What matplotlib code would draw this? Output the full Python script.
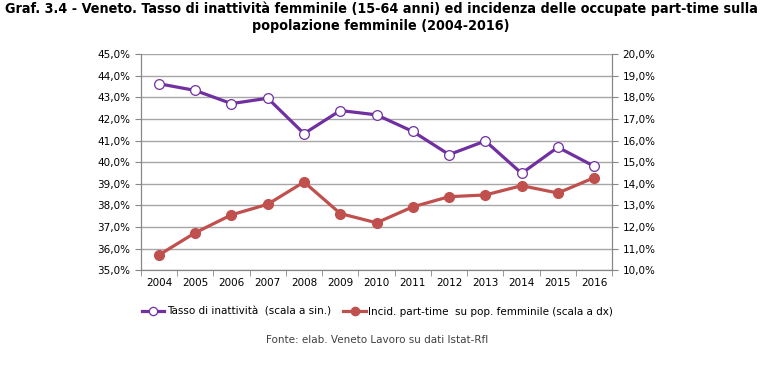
import matplotlib
matplotlib.use("Agg")
from matplotlib import pyplot as plt
from matplotlib.ticker import FuncFormatter, MultipleLocator

anni = ['2004', '2005', '2006', '2007', '2008', '2009', '2010',
        '2011', '2012', '2013', '2014', '2015', '2016']
inattivita = [43.63, 43.32, 42.71, 42.96, 41.32, 42.39, 42.19,
              41.42, 40.35, 40.98, 39.48, 40.69, 39.81]
part_time = [10.70, 11.73, 12.56, 13.05, 14.08, 12.62, 12.19,
             12.93, 13.40, 13.48, 13.91, 13.57, 14.28]

titolo = ("Graf. 3.4 - Veneto. Tasso di inattività femminile (15-64 anni) ed incidenza delle occupate part-time sulla\n"
          "popolazione femminile (2004-2016)")
fonte = "Fonte: elab. Veneto Lavoro su dati Istat-Rfl"

viola = "#7030A0"
rosso = "#C0504D"
grigio = "#878787"

def pct(v, pos):
    return ("%.1f%%" % v).replace(".", ",")

fig = plt.figure(figsize=(7.78, 3.66), dpi=100)
ax = fig.add_axes([0.181, 0.262, 0.606, 0.59])
ax2 = ax.twinx()

x = list(range(len(anni)))
l1, = ax.plot(x, inattivita, color=viola, lw=2.3, marker='o', ms=7,
              mfc='white', mec=viola, mew=0.9, zorder=3)
l2, = ax2.plot(x, part_time, color=rosso, lw=2.3, marker='o', ms=7,
               mfc=rosso, mec=rosso, zorder=3)

ax.set_ylim(35, 45)
ax2.set_ylim(10, 20)
ax.yaxis.set_major_locator(MultipleLocator(1))
ax2.yaxis.set_major_locator(MultipleLocator(1))
ax.yaxis.set_major_formatter(FuncFormatter(pct))
ax2.yaxis.set_major_formatter(FuncFormatter(pct))
ax.set_xlim(-0.5, len(anni) - 0.5)
ax.set_xticks(x)
ax.set_xticklabels(anni)
ax.set_xticks([i - 0.5 for i in range(len(anni) + 1)], minor=True)
ax.tick_params(axis='x', which='major', length=0, pad=6, labelsize=7.5)
ax.tick_params(axis='x', which='minor', length=4, color=grigio)
ax.tick_params(axis='y', length=4, color=grigio, labelsize=7.5)
ax2.tick_params(axis='y', length=4, color=grigio, labelsize=7.5)

ax.grid(axis='y', color='#A6A6A6', lw=1)
ax.set_axisbelow(True)
for a in (ax, ax2):
    a.spines['top'].set_visible(False)
    for s in ('left', 'right', 'bottom'):
        a.spines[s].set_color(grigio)

fig.text(0.49, 0.995, titolo, ha='center', va='top', fontsize=10.3,
         fontweight='bold', family='DejaVu Sans', fontstretch='condensed',
         linespacing=1.2)

fig.legend([l1, l2], ["Tasso di inattività  (scala a sin.)",
                      "Incid. part-time  su pop. femminile (scala a dx)"],
           loc='center', bbox_to_anchor=(0.485, 0.148), ncol=2, frameon=False,
           fontsize=7.5, handlelength=2.2, handletextpad=0.2, columnspacing=1.2,
           markerscale=0.85)

fig.text(0.485, 0.07, fonte, ha='center', va='center', fontsize=7.5, color='#404040')

fig.savefig("out.png", dpi=100)
